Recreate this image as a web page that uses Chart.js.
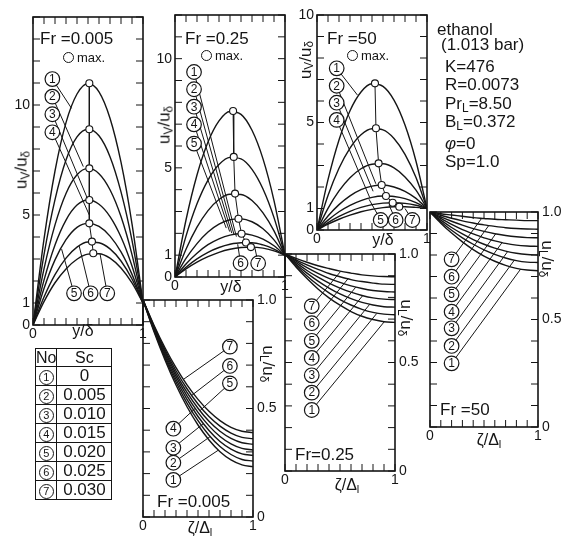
<!DOCTYPE html>
<html lang="en">
<head>
<meta charset="utf-8">
<title>ethanol - vapour and liquid velocity profiles</title>
<script src="https://cdn.jsdelivr.net/npm/chart.js@4.4.1/dist/chart.umd.min.js"></script>
<style>
  html, body { margin: 0; padding: 0; background: #fff; }
  #fig { position: relative; width: 564px; height: 536px; overflow: hidden;
         font-family: "Liberation Sans", Arial, sans-serif; color: #151515; }
  #fig canvas { position: absolute; left: 0; top: 0; }
  .txt { position: absolute; white-space: nowrap; line-height: 1; }
  .fr { font-size: 17px; }
  .mx { font-size: 13px; }
  .mx i { display: inline-block; width: 9px; height: 9px; border: 1.2px solid #151515;
          border-radius: 50%; vertical-align: -1px; margin-right: 3px; }
  .yt { font-size: 17px; transform: translate(-50%, -50%) rotate(-90deg); }
  .yt.r { transform: translate(-50%, -50%) rotate(90deg); }
  .xt { font-size: 16px; transform: translate(-50%, -50%); }
  .par { font-size: 17px; }
  sub { font-size: 70%; vertical-align: -0.25em; line-height: 0; }
  table.sc { position: absolute; left: 35px; top: 348px; border-collapse: collapse;
             border: 1.5px solid #151515; font-size: 17px; }
  table.sc td, table.sc th { border: 1px solid #151515; padding: 0; height: 16px;
             line-height: 16px; text-align: center; font-weight: normal; }
  table.sc th { font-size: 16px; height: 17px; }
  table.sc td.no { width: 20px; }
  table.sc td.v { width: 54px; }
  .cn { display: inline-block; width: 13px; height: 13px; border: 1.2px solid #151515;
        border-radius: 50%; font-size: 11px; line-height: 13px; text-align: center; vertical-align: -1px; }
</style>
</head>
<body>
<div id="fig">
  <canvas id="v1" width="564" height="536"></canvas>
  <canvas id="v2" width="564" height="536"></canvas>
  <canvas id="v3" width="564" height="536"></canvas>
  <canvas id="l1" width="564" height="536"></canvas>
  <canvas id="l2" width="564" height="536"></canvas>
  <canvas id="l3" width="564" height="536"></canvas>

  <!-- panel captions -->
  <div class="txt fr" style="left:40px;top:30px">Fr =0.005</div>
  <div class="txt mx" style="left:63px;top:51px"><i></i>max.</div>
  <div class="txt fr" style="left:185px;top:30px">Fr =0.25</div>
  <div class="txt mx" style="left:201px;top:49px"><i></i>max.</div>
  <div class="txt fr" style="left:327px;top:30px">Fr =50</div>
  <div class="txt mx" style="left:347px;top:49px"><i></i>max.</div>
  <div class="txt fr" style="left:157px;top:493px">Fr =0.005</div>
  <div class="txt fr" style="left:295px;top:446px">Fr=0.25</div>
  <div class="txt fr" style="left:440px;top:401px">Fr =50</div>

  <!-- axis titles -->
  <div class="txt yt" style="left:21px;top:170px">u<sub>V</sub>/u<sub>δ</sub></div>
  <div class="txt yt" style="left:164px;top:125px">u<sub>V</sub>/u<sub>δ</sub></div>
  <div class="txt yt" style="left:305px;top:60px">u<sub>V</sub>/u<sub>δ</sub></div>
  <div class="txt yt r" style="left:268px;top:364px">u<sub>L</sub>/u<sub>δ</sub></div>
  <div class="txt yt r" style="left:406px;top:318px">u<sub>L</sub>/u<sub>δ</sub></div>
  <div class="txt yt r" style="left:547px;top:259px">u<sub>L</sub>/u<sub>δ</sub></div>
  <div class="txt xt" style="left:83px;top:331px">y/δ</div>
  <div class="txt xt" style="left:231px;top:287px">y/δ</div>
  <div class="txt xt" style="left:383px;top:240px">y/δ</div>
  <div class="txt xt" style="left:200px;top:528px">ζ/Δ<sub>l</sub></div>
  <div class="txt xt" style="left:347px;top:485px">ζ/Δ<sub>l</sub></div>
  <div class="txt xt" style="left:489px;top:440px">ζ/Δ<sub>l</sub></div>

  <!-- property block -->
  <div class="txt par" style="left:437px;top:21px">ethanol</div>
  <div class="txt par" style="left:441px;top:36px">(1.013 bar)</div>
  <div class="txt par" style="left:445px;top:58px">K=476</div>
  <div class="txt par" style="left:445px;top:76px">R=0.0073</div>
  <div class="txt par" style="left:445px;top:95px">Pr<sub>L</sub>=8.50</div>
  <div class="txt par" style="left:445px;top:113px">B<sub>L</sub>=0.372</div>
  <div class="txt par" style="left:445px;top:135px"><i>φ</i>=0</div>
  <div class="txt par" style="left:445px;top:153px">Sp=1.0</div>

  <table class="sc" id="scTable"></table>
</div>

<script>
// ---- data ----
const yDelta = [0, 0.1, 0.2, 0.3, 0.4, 0.5, 0.6, 0.7, 0.8, 0.9, 1.0];   // y/δ
const zetaL  = [0, 0.1, 0.2, 0.3, 0.4, 0.5, 0.6, 0.7, 0.8, 0.9, 1.0];   // ζ/Δl

const curveNo  = [1, 2, 3, 4, 5, 6, 7];
const scValues = ['0', '0.005', '0.010', '0.015', '0.020', '0.025', '0.030'];

// vapour, Fr = 0.005 (curves 1..7)
const uV_Fr0005 = [
  [0, 3.9, 7.0, 9.2, 10.5, 10.98, 10.6, 9.4, 7.4, 4.6, 1],
  [0, 3.2, 5.7, 7.5, 8.55, 8.9, 8.6, 7.65, 6.05, 3.85, 1],
  [0, 2.55, 4.55, 5.98, 6.83, 7.12, 6.88, 6.15, 4.93, 3.2, 1],
  [0, 2.04, 3.64, 4.77, 5.45, 5.68, 5.49, 4.93, 4.0, 2.68, 1],
  [0, 1.66, 2.96, 3.88, 4.44, 4.62, 4.48, 4.04, 3.32, 2.3, 1],
  [0, 1.27, 2.29, 3.04, 3.54, 3.77, 3.74, 3.46, 2.91, 2.09, 1],
  [0, 1.06, 1.92, 2.55, 2.99, 3.22, 3.24, 3.04, 2.59, 1.91, 1]
];
const maxPos_Fr0005 = [0.512, 0.512, 0.512, 0.512, 0.512, 0.536, 0.548];
const maxVal_Fr0005 = [10.99, 8.9, 7.12, 5.68, 4.62, 3.79, 3.26];

// vapour, Fr = 0.25
const uV_Fr025 = [
  [0, 2.61, 4.67, 6.18, 7.15, 7.58, 7.45, 6.72, 5.41, 3.5, 1],
  [0, 1.87, 3.35, 4.44, 5.15, 5.48, 5.41, 4.93, 4.03, 2.72, 1],
  [0, 1.27, 2.28, 3.04, 3.55, 3.79, 3.78, 3.5, 2.94, 2.11, 1],
  [0, 0.85, 1.53, 2.06, 2.42, 2.62, 2.66, 2.53, 2.21, 1.7, 1],
  [0, 0.6, 1.09, 1.48, 1.75, 1.92, 1.98, 1.92, 1.74, 1.43, 1],
  [0, 0.45, 0.83, 1.13, 1.35, 1.5, 1.57, 1.57, 1.47, 1.28, 1],
  [0, 0.37, 0.68, 0.93, 1.13, 1.27, 1.35, 1.37, 1.32, 1.2, 1]
];
const maxPos_Fr025 = [0.528, 0.534, 0.546, 0.577, 0.605, 0.645, 0.69];
const maxVal_Fr025 = [7.6, 5.5, 3.82, 2.67, 1.98, 1.58, 1.37];

// vapour, Fr = 50
const uV_Fr50 = [
  [0, 2.34, 4.19, 5.55, 6.42, 6.8, 6.68, 6.04, 4.88, 3.2, 1],
  [0, 1.6, 2.87, 3.81, 4.43, 4.71, 4.66, 4.26, 3.52, 2.44, 1],
  [0, 1.01, 1.82, 2.43, 2.85, 3.06, 3.08, 2.89, 2.47, 1.85, 1],
  [0, 0.65, 1.18, 1.59, 1.88, 2.04, 2.09, 2.0, 1.8, 1.47, 1],
  [0, 0.46, 0.85, 1.15, 1.37, 1.52, 1.58, 1.56, 1.46, 1.27, 1],
  [0, 0.34, 0.63, 0.87, 1.05, 1.18, 1.25, 1.27, 1.24, 1.15, 1],
  [0, 0.27, 0.5, 0.69, 0.85, 0.96, 1.04, 1.08, 1.08, 1.05, 1]
];
const maxPos_Fr50 = [0.527, 0.536, 0.56, 0.588, 0.627, 0.688, 0.748];
const maxVal_Fr50 = [6.82, 4.73, 3.1, 2.09, 1.58, 1.27, 1.08];

// liquid film, Fr = 0.005
const uL_Fr0005 = [
  [1, 0.854, 0.724, 0.608, 0.508, 0.424, 0.355, 0.301, 0.263, 0.240, 0.232],
  [1, 0.859, 0.733, 0.622, 0.525, 0.444, 0.377, 0.325, 0.288, 0.265, 0.258],
  [1, 0.864, 0.742, 0.635, 0.542, 0.463, 0.399, 0.348, 0.313, 0.291, 0.284],
  [1, 0.869, 0.751, 0.648, 0.558, 0.482, 0.420, 0.371, 0.337, 0.316, 0.309],
  [1, 0.874, 0.761, 0.661, 0.574, 0.501, 0.441, 0.395, 0.362, 0.342, 0.335],
  [1, 0.879, 0.770, 0.674, 0.591, 0.521, 0.463, 0.419, 0.387, 0.367, 0.361],
  [1, 0.884, 0.780, 0.688, 0.609, 0.542, 0.487, 0.444, 0.413, 0.395, 0.389]
];
// liquid film, Fr = 0.25
const uL_Fr025 = [
  [1, 0.940, 0.887, 0.839, 0.798, 0.764, 0.735, 0.713, 0.698, 0.688, 0.685],
  [1, 0.947, 0.899, 0.857, 0.821, 0.790, 0.765, 0.745, 0.731, 0.723, 0.720],
  [1, 0.953, 0.912, 0.875, 0.843, 0.816, 0.794, 0.777, 0.765, 0.757, 0.755],
  [1, 0.960, 0.924, 0.893, 0.866, 0.843, 0.824, 0.809, 0.798, 0.792, 0.790],
  [1, 0.967, 0.937, 0.911, 0.888, 0.869, 0.853, 0.841, 0.832, 0.827, 0.825],
  [1, 0.973, 0.950, 0.929, 0.910, 0.895, 0.882, 0.873, 0.866, 0.861, 0.860],
  [1, 0.980, 0.962, 0.946, 0.933, 0.921, 0.912, 0.904, 0.899, 0.896, 0.895]
];
// liquid film, Fr = 50
const uL_Fr50 = [
  [1, 0.948, 0.902, 0.861, 0.825, 0.795, 0.771, 0.752, 0.738, 0.730, 0.727],
  [1, 0.955, 0.915, 0.880, 0.850, 0.824, 0.803, 0.786, 0.774, 0.767, 0.765],
  [1, 0.962, 0.928, 0.898, 0.872, 0.850, 0.832, 0.818, 0.808, 0.802, 0.800],
  [1, 0.970, 0.942, 0.918, 0.898, 0.880, 0.866, 0.854, 0.846, 0.842, 0.840],
  [1, 0.977, 0.957, 0.939, 0.923, 0.910, 0.899, 0.891, 0.885, 0.881, 0.880],
  [1, 0.985, 0.971, 0.959, 0.949, 0.940, 0.933, 0.927, 0.923, 0.921, 0.920],
  [1, 0.992, 0.986, 0.980, 0.974, 0.970, 0.966, 0.964, 0.962, 0.960, 0.960]
];

// tick labels
const vapYTickVals = [0, 1, 5, 10];
const vapYTickText = ['0', '1', '5', '10'];
const liqYTickVals = [0, 0.5, 1];
const liqYTickText = ['0', '0.5', '1.0'];
const xTickVals = [0, 1];
const xTickText = ['0', '1'];

// circled curve numbers: label centre (x, y) and leader end (tx, ty), in data units
const tags_v1 = [
  { n: 1, x: 0.176, y: 11.18, tx: 0.35, ty: 9.85 },
  { n: 2, x: 0.176, y: 10.38, tx: 0.457, ty: 7.2 },
  { n: 3, x: 0.176, y: 9.58, tx: 0.494, ty: 5.76 },
  { n: 4, x: 0.176, y: 8.76, tx: 0.512, ty: 5.0 },
  { n: 5, x: 0.373, y: 1.44, tx: 0.26, ty: 3.45 },
  { n: 6, x: 0.524, y: 1.44, tx: 0.42, ty: 3.59 },
  { n: 7, x: 0.675, y: 1.44, tx: 0.61, ty: 3.22 }
];
const tags_v2 = [
  { n: 1, x: 0.173, y: 9.39, tx: 0.558, ty: 1.85 },
  { n: 2, x: 0.173, y: 8.6, tx: 0.537, ty: 1.93 },
  { n: 3, x: 0.173, y: 7.8, tx: 0.516, ty: 2.01 },
  { n: 4, x: 0.173, y: 6.99, tx: 0.497, ty: 2.08 },
  { n: 5, x: 0.173, y: 6.11, tx: 0.466, ty: 2.24 },
  { n: 6, x: 0.596, y: 0.63, tx: 0.57, ty: 1.5 },
  { n: 7, x: 0.756, y: 0.63, tx: 0.725, ty: 1.36 }
];
const tags_v3 = [
  { n: 1, x: 0.179, y: 7.52, tx: 0.367, ty: 6.28 },
  { n: 2, x: 0.179, y: 6.71, tx: 0.535, ty: 2.15 },
  { n: 3, x: 0.179, y: 5.92, tx: 0.51, ty: 1.8 },
  { n: 4, x: 0.179, y: 5.12, tx: 0.48, ty: 1.5 },
  { n: 5, x: 0.579, y: 0.465, tx: 0.473, ty: 1.43 },
  { n: 6, x: 0.715, y: 0.465, tx: 0.655, ty: 1.16 },
  { n: 7, x: 0.867, y: 0.465, tx: 0.8, ty: 1.0 }
];
const tags_l1 = [
  { n: 7, x: 0.79, y: 0.785, tx: 0.367, ty: 0.634 },
  { n: 6, x: 0.79, y: 0.696, tx: 0.442, ty: 0.56 },
  { n: 5, x: 0.79, y: 0.616, tx: 0.518, ty: 0.49 },
  { n: 4, x: 0.276, y: 0.407, tx: 0.473, ty: 0.50 },
  { n: 3, x: 0.276, y: 0.319, tx: 0.548, ty: 0.43 },
  { n: 2, x: 0.276, y: 0.250, tx: 0.609, ty: 0.37 },
  { n: 1, x: 0.276, y: 0.171, tx: 0.685, ty: 0.308 }
];
const tags_l2 = [
  { n: 7, x: 0.243, y: 0.76, tx: 0.506, ty: 0.92 },
  { n: 6, x: 0.243, y: 0.681, tx: 0.573, ty: 0.886 },
  { n: 5, x: 0.243, y: 0.60, tx: 0.643, ty: 0.847 },
  { n: 4, x: 0.243, y: 0.521, tx: 0.706, ty: 0.808 },
  { n: 3, x: 0.243, y: 0.441, tx: 0.77, ty: 0.768 },
  { n: 2, x: 0.243, y: 0.361, tx: 0.834, ty: 0.726 },
  { n: 1, x: 0.243, y: 0.281, tx: 0.906, ty: 0.69 }
];
const tags_l3 = [
  { n: 7, x: 0.2, y: 0.78, tx: 0.479, ty: 0.971 },
  { n: 6, x: 0.2, y: 0.699, tx: 0.544, ty: 0.937 },
  { n: 5, x: 0.2, y: 0.617, tx: 0.608, ty: 0.898 },
  { n: 4, x: 0.2, y: 0.536, tx: 0.669, ty: 0.859 },
  { n: 3, x: 0.2, y: 0.459, tx: 0.719, ty: 0.816 },
  { n: 2, x: 0.2, y: 0.377, tx: 0.781, ty: 0.776 },
  { n: 1, x: 0.2, y: 0.296, tx: 0.84, ty: 0.735 }
];

// ---- drawing ----
const W = 564, H = 536;
const INK = '#151515';
const FONT = '"Liberation Sans", Arial, sans-serif';

function steps(lo, hi, step) {
  const out = [];
  for (let v = lo; v <= hi + 1e-9; v += step) out.push(+v.toFixed(3));
  return out;
}

// frame with inward ticks on all four sides + tick labels
function frameTicks(cfg) {
  return {
    id: 'frameTicks',
    beforeDatasetsDraw(chart) {
      const { ctx, chartArea: a } = chart;
      const sx = chart.scales.x, sy = chart.scales.y;
      const L = 7;
      ctx.save();
      ctx.strokeStyle = INK;
      ctx.lineWidth = 1;
      ctx.beginPath();
      cfg.xMinor.forEach(v => {
        const p = sx.getPixelForValue(v);
        ctx.moveTo(p, a.bottom); ctx.lineTo(p, a.bottom - L);
        ctx.moveTo(p, a.top); ctx.lineTo(p, a.top + L);
      });
      cfg.yMinor.forEach(v => {
        const p = sy.getPixelForValue(v);
        ctx.moveTo(a.left, p); ctx.lineTo(a.left + L, p);
        ctx.moveTo(a.right, p); ctx.lineTo(a.right - L, p);
      });
      ctx.stroke();
      ctx.lineWidth = 1.6;
      ctx.strokeRect(a.left, a.top, a.right - a.left, a.bottom - a.top);

      ctx.fillStyle = INK;
      ctx.font = '14px ' + FONT;
      ctx.textBaseline = 'middle';
      const onLeft = cfg.ySide === 'left';
      ctx.textAlign = onLeft ? 'right' : 'left';
      cfg.yVals.forEach((v, i) => {
        ctx.fillText(cfg.yText[i], onLeft ? a.left - 3 : a.right + 4, sy.getPixelForValue(v));
      });
      ctx.textAlign = 'center';
      ctx.textBaseline = 'top';
      xTickVals.forEach((v, i) => ctx.fillText(xTickText[i], sx.getPixelForValue(v), a.bottom + 2));
      ctx.restore();
    }
  };
}

// circled curve numbers with leader lines
function circledTags(tags) {
  return {
    id: 'circledTags',
    afterDatasetsDraw(chart) {
      const { ctx } = chart;
      const sx = chart.scales.x, sy = chart.scales.y;
      ctx.save();
      ctx.strokeStyle = INK;
      ctx.lineWidth = 1;
      ctx.beginPath();
      tags.forEach(t => {
        ctx.moveTo(sx.getPixelForValue(t.x), sy.getPixelForValue(t.y));
        ctx.lineTo(sx.getPixelForValue(t.tx), sy.getPixelForValue(t.ty));
      });
      ctx.stroke();
      ctx.font = '12px ' + FONT;
      ctx.textAlign = 'center';
      ctx.textBaseline = 'middle';
      tags.forEach(t => {
        const px = sx.getPixelForValue(t.x), py = sy.getPixelForValue(t.y);
        ctx.beginPath();
        ctx.arc(px, py, 7.3, 0, Math.PI * 2);
        ctx.fillStyle = '#fff';
        ctx.fill();
        ctx.lineWidth = 1.2;
        ctx.stroke();
        ctx.fillStyle = INK;
        ctx.fillText(String(t.n), px, py + 0.5);
      });
      ctx.restore();
    }
  };
}

function panel(id, box, yMax, xs, series, maxPos, maxVal, frame, tags) {
  const datasets = series.map((vals, i) => ({
    label: 'No ' + curveNo[i],
    data: xs.map((x, j) => ({ x: x, y: vals[j] })),
    borderColor: INK,
    borderWidth: 1.4,
    pointRadius: 0,
    fill: false,
    cubicInterpolationMode: 'monotone',
    order: 1
  }));
  if (maxPos) {
    // locus of the maxima
    datasets.push({
      label: 'max.',
      data: maxPos.map((x, i) => ({ x: x, y: maxVal[i] })),
      borderColor: INK,
      borderWidth: 1,
      tension: 0,
      pointRadius: 3.5,
      pointBackgroundColor: '#fff',
      pointBorderColor: INK,
      pointBorderWidth: 1.1,
      order: 0
    });
  }
  return new Chart(document.getElementById(id), {
    type: 'line',
    data: { datasets },
    options: {
      responsive: false,
      animation: false,
      events: [],
      layout: { padding: { left: box[0], top: box[1], right: W - box[2], bottom: H - box[3] } },
      scales: {
        x: { type: 'linear', min: 0, max: 1, display: false },
        y: { type: 'linear', min: 0, max: yMax, display: false }
      },
      plugins: { legend: { display: false }, tooltip: { enabled: false } }
    },
    plugins: [frameTicks(frame), circledTags(tags)]
  });
}

const vapFrame = yMax => ({ xMinor: steps(0, 1, 0.1), yMinor: steps(0, yMax, 1),
                            yVals: vapYTickVals, yText: vapYTickText, ySide: 'left' });
const liqFrame = { xMinor: steps(0, 1, 0.1), yMinor: steps(0, 1, 0.1),
                   yVals: liqYTickVals, yText: liqYTickText, ySide: 'right' };

panel('v1', [33, 17, 143, 325], 14, yDelta, uV_Fr0005, maxPos_Fr0005, maxVal_Fr0005, vapFrame(14), tags_v1);
panel('v2', [175, 15, 285, 277], 12, yDelta, uV_Fr025, maxPos_Fr025, maxVal_Fr025, vapFrame(12), tags_v2);
panel('v3', [317, 15, 427, 230], 10, yDelta, uV_Fr50, maxPos_Fr50, maxVal_Fr50, vapFrame(10), tags_v3);
panel('l1', [143, 300, 253, 517], 1, zetaL, uL_Fr0005, null, null, liqFrame, tags_l1);
panel('l2', [285, 254, 395, 471], 1, zetaL, uL_Fr025, null, null, liqFrame, tags_l2);
panel('l3', [430, 212, 538, 427], 1, zetaL, uL_Fr50, null, null, liqFrame, tags_l3);

// Sc legend table
const tbl = document.getElementById('scTable');
let rows = '<tr><th>No</th><th>Sc</th></tr>';
curveNo.forEach((n, i) => {
  rows += '<tr><td class="no"><span class="cn">' + n + '</span></td><td class="v">' + scValues[i] + '</td></tr>';
});
tbl.innerHTML = rows;
</script>
</body>
</html>
